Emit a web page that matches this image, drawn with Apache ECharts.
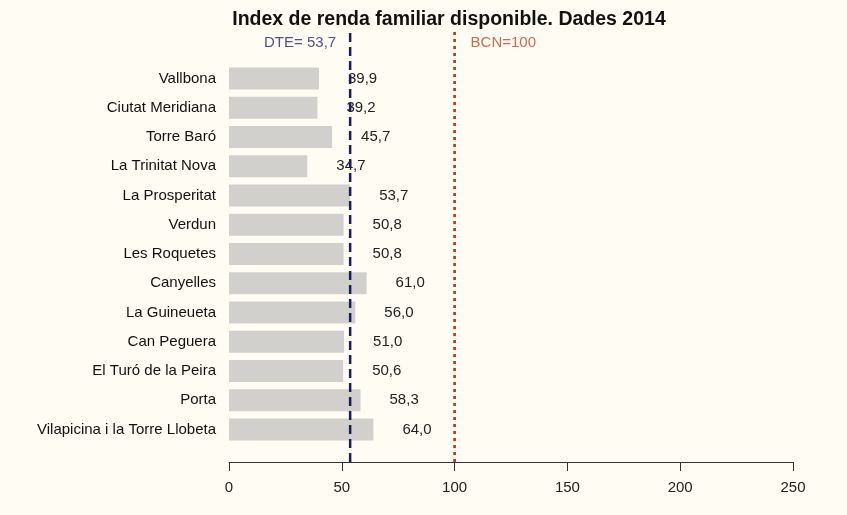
<!DOCTYPE html>
<html>
<head>
<meta charset="utf-8">
<title>Index de renda familiar disponible</title>
<script src="https://cdn.jsdelivr.net/npm/echarts@6/dist/echarts.min.js"></script>
<style>
  html, body { margin: 0; padding: 0; background: #fffcf3; }
  #chart { width: 847px; height: 515px; }
</style>
</head>
<body>
<div id="chart"></div>
<script>
// barris, de dalt a baix
var barris = ['Vallbona', 'Ciutat Meridiana', 'Torre Baró', 'La Trinitat Nova',
  'La Prosperitat', 'Verdun', 'Les Roquetes', 'Canyelles', 'La Guineueta',
  'Can Peguera', 'El Turó de la Peira', 'Porta', 'Vilapicina i la Torre Llobeta'];
var renda = [39.9, 39.2, 45.7, 34.7, 53.7, 50.8, 50.8, 61.0, 56.0, 51.0, 50.6, 58.3, 64.0];
var referencies = [
  { nom: 'DTE= 53,7', valor: 53.7 },
  { nom: 'BCN=100', valor: 100 }
];
var xTicks = [0, 50, 100, 150, 200, 250];

var FONT = '"Liberation Sans", Arial, sans-serif';
var chart = echarts.init(document.getElementById('chart'));

function coma(v) { return v.toFixed(1).replace('.', ','); }

var option = {
  backgroundColor: '#fffcf3',
  animation: false,
  textStyle: { fontFamily: FONT },
  title: {
    text: 'Index de renda familiar disponible. Dades 2014',
    left: 444, top: 5, textAlign: 'center',
    textStyle: { fontSize: 19.5, fontWeight: 'bold', color: '#111', fontFamily: FONT }
  },
  grid: [
    { left: 229, right: 54, top: 64, bottom: 71 },
    { left: 229, right: 54, top: 28, bottom: 53 }
  ],
  xAxis: [{
    gridIndex: 0, type: 'value', min: xTicks[0], max: xTicks[xTicks.length - 1], interval: 50, offset: 18,
    axisLine: { show: true, lineStyle: { color: '#333', width: 1 } },
    axisTick: { show: true, length: 9, lineStyle: { color: '#333' } },
    axisLabel: { fontSize: 15, color: '#222', margin: 18, fontFamily: FONT },
    splitLine: { show: false }
  }, {
    gridIndex: 1, type: 'value', min: 0, max: 250, show: false
  }],
  yAxis: [{
    gridIndex: 0, type: 'category', data: barris, inverse: true,
    axisLine: { show: false }, axisTick: { show: false },
    axisLabel: { fontSize: 15, color: '#111', margin: 13, fontFamily: FONT }
  }, {
    gridIndex: 1, type: 'value', min: 0, max: 1, show: false
  }],
  series: [{
    type: 'bar', xAxisIndex: 0, yAxisIndex: 0,
    data: renda, barWidth: 22,
    itemStyle: { color: '#d1d0cd' },
    label: {
      show: true, position: 'right', distance: 29,
      fontSize: 15, color: '#222', fontFamily: FONT,
      formatter: function (p) { return coma(p.value); }
    },
    z: 2
  }, {
    type: 'line', xAxisIndex: 1, yAxisIndex: 1, symbol: 'none',
    data: [[referencies[0].valor, 0], [referencies[0].valor, 1]],
    lineStyle: { color: '#1c1c5a', width: 2.5, type: [9, 5] }, z: 5
  }, {
    type: 'line', xAxisIndex: 1, yAxisIndex: 1, symbol: 'none',
    data: [[referencies[1].valor, 0], [referencies[1].valor, 1]],
    lineStyle: { color: '#c63a28', width: 2.8, type: [3, 4] }, z: 5
  }, {
    type: 'scatter', xAxisIndex: 1, yAxisIndex: 1, symbolSize: 0,
    data: [
      { value: [referencies[0].valor, 0.965], label: { position: 'left', distance: 14, color: '#25256e' } },
      { value: [referencies[1].valor, 0.965], label: { position: 'right', distance: 16, color: '#c0432c' } }
    ],
    label: {
      show: true, fontSize: 15, fontFamily: FONT,
      formatter: function (p) { return referencies[p.dataIndex].nom; }
    },
    silent: true
  }]
};

chart.setOption(option);
</script>
</body>
</html>
